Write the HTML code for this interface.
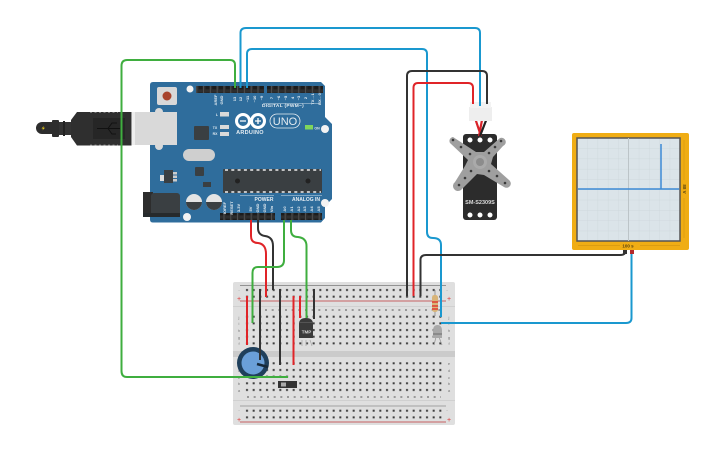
<!DOCTYPE html>
<html><head><meta charset="utf-8"><style>
html,body{margin:0;padding:0;background:#fff}
svg{display:block}
text{font-family:"Liberation Sans",sans-serif}
</style></head><body>
<svg width="725" height="453" viewBox="0 0 725 453" xmlns="http://www.w3.org/2000/svg">
<defs>
<pattern id="hr" x="245.900" y="288.900" width="6.667" height="6.667" patternUnits="userSpaceOnUse"><rect x="0.100" y="0.100" width="2" height="2" fill="#3c3c3c"/></pattern>
<pattern id="hu" x="245.900" y="315.600" width="6.667" height="6.667" patternUnits="userSpaceOnUse"><rect x="0.100" y="0.100" width="2" height="2" fill="#3c3c3c"/></pattern>
<pattern id="hl" x="245.900" y="362.200" width="6.667" height="6.667" patternUnits="userSpaceOnUse"><rect x="0.100" y="0.100" width="2" height="2" fill="#3c3c3c"/></pattern>
<pattern id="hb" x="245.900" y="409.600" width="6.667" height="6.667" patternUnits="userSpaceOnUse"><rect x="0.100" y="0.100" width="2" height="2" fill="#3c3c3c"/></pattern>
<pattern id="pin" x="0" y="0" width="6.800" height="7" patternUnits="userSpaceOnUse"><rect width="6.800" height="7" fill="#2e2e2e"/><rect x="1.400" y="1.600" width="4" height="3.800" fill="#1c1c1c"/><rect x="6" width="0.800" height="7" fill="#555"/></pattern>
<pattern id="grid" x="577" y="138" width="10.300" height="10.300" patternUnits="userSpaceOnUse"><rect width="10.300" height="10.300" fill="#dbe4e9"/><path d="M0 0H10.300M0 0V10.300" stroke="#ccd6da" stroke-width="0.700"/></pattern>
</defs>

<!-- USB plug -->
<g>
<path d="M42 122H56V134H42A6 6 0 0 1 42 122Z" fill="#2d2d2d"/>
<path d="M44 126l-2.500 2.500h1.800l-1 2l2.700 -2.800h-1.800z" fill="#f2d21b"/>
<rect x="52" y="120" width="7" height="17" rx="1" fill="#2d2d2d"/>
<rect x="59" y="122" width="12" height="13" fill="#333"/>
<rect x="63" y="121" width="2" height="15" fill="#222"/>
<path d="M71 120L77 112H131.500V145.500H77L71 137Z" fill="#2f2f2f"/>
<path d="M90 112.500H118M90 145H118" stroke="#777" stroke-width="1" stroke-dasharray="2 2.500"/>
<rect x="93" y="118" width="32" height="21" fill="#262626"/>
<path d="M97 128.500H120M108 128.500L112 123H117M108 128.500L112 134H116" stroke="#111" stroke-width="1" fill="none"/>
</g>

<!-- Arduino -->
<path d="M153 82H321L325 86V117L332 124V199L325 206V218L321 222.500H153Q150 222.500 150 219.500V85Q150 82 153 82Z" fill="#2f6d9c"/>
<circle cx="159" cy="112" r="4" fill="#d9d9d9"/><circle cx="159" cy="146" r="4" fill="#d9d9d9"/>
<rect x="132" y="112" width="45" height="33" fill="#d9d9d9"/>
<rect x="132" y="112" width="3" height="33" fill="#eee"/>
<rect x="157" y="87" width="20" height="18" rx="2" fill="#d8d8d8"/><circle cx="167" cy="96" r="4.500" fill="#a8432c"/>
<circle cx="190" cy="89" r="3.500" fill="#f3f3f3"/>
<circle cx="325" cy="129" r="4" fill="#f3f3f3"/><circle cx="325" cy="203" r="4" fill="#f3f3f3"/><circle cx="187" cy="217" r="4" fill="#f3f3f3"/>
<rect x="196" y="86" width="68" height="7" fill="url(#pin)"/>
<rect x="267" y="86" width="56" height="7" fill="url(#pin)"/>
<rect x="220" y="213" width="55" height="7" fill="url(#pin)"/>
<rect x="281" y="213" width="41" height="7" fill="url(#pin)"/>
<g fill="#e6edf2" font-size="4" font-weight="bold" text-anchor="middle">
<text transform="translate(217,100) rotate(-90)">AREF</text><text transform="translate(223,100) rotate(-90)">GND</text>
<text transform="translate(236,99) rotate(-90)">13</text><text transform="translate(242,99) rotate(-90)">12</text><text transform="translate(249,99) rotate(-90)">~11</text><text transform="translate(256,99) rotate(-90)">~10</text><text transform="translate(263,98) rotate(-90)">~9</text><text transform="translate(262,0) rotate(-90)"></text>
<text transform="translate(273,98) rotate(-90)">7</text><text transform="translate(280,98) rotate(-90)">~6</text><text transform="translate(287,98) rotate(-90)">~5</text><text transform="translate(294,98) rotate(-90)">4</text><text transform="translate(300,98) rotate(-90)">~3</text><text transform="translate(307,98) rotate(-90)">2</text><text transform="translate(314,99) rotate(-90)">TX→1</text><text transform="translate(321,99) rotate(-90)">RX←0</text>
<text x="283" y="107" font-size="4.800" letter-spacing=".3">DIGITAL (PWM~)</text>
<text transform="translate(226,208) rotate(-90)">IOREF</text><text transform="translate(233,208) rotate(-90)">RESET</text><text transform="translate(240,208) rotate(-90)">3.3V</text><text transform="translate(252,209) rotate(-90)">5V</text><text transform="translate(259,208) rotate(-90)">GND</text><text transform="translate(266,208) rotate(-90)">GND</text><text transform="translate(273,209) rotate(-90)">Vin</text>
<text transform="translate(286,209) rotate(-90)">A0</text><text transform="translate(293,209) rotate(-90)">A1</text><text transform="translate(300,209) rotate(-90)">A2</text><text transform="translate(306,209) rotate(-90)">A3</text><text transform="translate(313,209) rotate(-90)">A4</text><text transform="translate(320,209) rotate(-90)">A5</text>
<text x="264" y="201" font-size="5">POWER</text><text x="306" y="201" font-size="5">ANALOG IN</text>
<text x="250" y="134" font-size="5.500" font-weight="bold" letter-spacing=".3">ARDUINO</text>
<text x="285" y="125" font-size="11" font-weight="normal">UNO</text>
<text x="217" y="116" font-size="3.500">L</text><text x="215" y="129" font-size="3.500">TX</text><text x="215" y="135" font-size="3.500">RX</text>
<text x="317" y="129.500" font-size="3.500">ON</text>
</g>
<path d="M240 195.500H274M281 195.500H322M263 103.500H321" stroke="#cfe0ea" stroke-width="0.600" fill="none"/>
<g fill="none" stroke="#fff" stroke-width="3"><circle cx="243" cy="121" r="6.500"/><circle cx="258" cy="121" r="6.500"/></g>
<path d="M240 121H246M255 121H261M258 118V124" stroke="#fff" stroke-width="1.300"/>
<rect x="270" y="114" width="30" height="14" rx="7" fill="none" stroke="#e8eef2" stroke-width="0.800"/>
<rect x="220" y="112" width="9" height="4.500" fill="#d9d9d9"/><rect x="220" y="125" width="9" height="4" fill="#d9d9d9"/><rect x="220" y="132" width="9" height="4" fill="#d9d9d9"/>
<rect x="305" y="125" width="8" height="4.500" fill="#7fd65c"/>
<rect x="194" y="126" width="15" height="14" rx="1" fill="#3a3f42"/>
<rect x="183" y="149" width="32" height="12" rx="6" fill="#cfcfcf"/>
<rect x="195" y="167" width="9" height="9" rx="1" fill="#3a3f42"/>
<rect x="164" y="170" width="9" height="13" fill="#3a3f42"/><rect x="160" y="175" width="4" height="6" fill="#ddd"/><path d="M173 172h4v2.500h-4zM173 175.500h4v2.500h-4zM173 179h4v2.500h-4z" fill="#ccc"/>
<rect x="203" y="182" width="8" height="5" fill="#3a3f42"/>
<circle cx="194" cy="202" r="8" fill="#e4e4e4"/><path d="M186 202a8 8 0 0 0 16 0Z" fill="#3a3f42"/>
<circle cx="214" cy="202" r="8" fill="#e4e4e4"/><path d="M206 202a8 8 0 0 0 16 0Z" fill="#3a3f42"/>
<rect x="143" y="192" width="10" height="25" fill="#2d2d2d"/><rect x="151" y="193" width="29" height="23" rx="3" fill="#3a3f42"/><rect x="143" y="213" width="37" height="4" fill="#262a2c"/>
<rect x="223" y="169" width="99" height="24" rx="1" fill="#3a3f42"/>
<path d="M225 170H321M225 192H321" stroke="#eee" stroke-width="1.500" stroke-dasharray="3 3.300"/>
<circle cx="237.500" cy="181" r="2.500" fill="#222"/><circle cx="308" cy="181" r="2.500" fill="#222"/>

<!-- Breadboard -->
<rect x="233" y="282" width="222" height="143" rx="2" fill="#dfdfdf"/>
<rect x="233" y="306" width="222" height="1" fill="#d0d0d0"/>
<rect x="233" y="351" width="222" height="6" fill="#cbcbcb"/>
<rect x="233" y="400" width="222" height="1" fill="#d0d0d0"/>
<path d="M240 285.700H446M240 406H446" stroke="#666" stroke-width="0.600"/>
<path d="M240 301H446M240 422H446" stroke="#c0393b" stroke-width="0.800"/>
<rect x="245" y="288" width="200" height="10" fill="url(#hr)"/>
<rect x="245" y="315" width="200" height="30" fill="url(#hu)"/>
<rect x="245" y="362" width="200" height="30" fill="url(#hl)"/>
<rect x="245" y="409" width="200" height="10" fill="url(#hb)"/>
<g fill="#777" font-size="4" text-anchor="middle">
<text x="239" y="291">-</text><text x="447" y="291">-</text><text x="239" y="301" fill="#d33" font-size="7">+</text><text x="449" y="301" fill="#d33" font-size="7">+</text>
<text x="239" y="411">-</text><text x="447" y="411">-</text><text x="239" y="422" fill="#d33" font-size="7">+</text><text x="449" y="422" fill="#d33" font-size="7">+</text>
<text x="239" y="319">j</text><text x="239" y="325">i</text><text x="239" y="332">h</text><text x="239" y="339">g</text><text x="239" y="345">f</text>
<text x="449" y="319">j</text><text x="449" y="325">i</text><text x="449" y="332">h</text><text x="449" y="339">g</text><text x="449" y="345">f</text>
<text x="239" y="365">e</text><text x="239" y="372">d</text><text x="239" y="379">c</text><text x="239" y="385">b</text><text x="239" y="392">a</text>
<text x="449" y="365">e</text><text x="449" y="372">d</text><text x="449" y="379">c</text><text x="449" y="385">b</text><text x="449" y="392">a</text>
</g>
<path d="M265 310H441M247 397H441" stroke="#999" stroke-width="2" stroke-dasharray="2 4.667"/>

<!-- Pot -->
<circle cx="253" cy="363" r="16" fill="#1f3f5b"/>
<circle cx="253" cy="363" r="11.500" fill="#6a9fd8"/>
<path d="M257 364L268 367" stroke="#16293a" stroke-width="2.500"/>
<!-- Switch -->
<rect x="278" y="381" width="19" height="7" fill="#333"/><rect x="281" y="382.500" width="5" height="4" fill="#aaa"/>
<!-- TMP -->
<path d="M302 340L302 346M306 340V346M310 340L312 346" stroke="#aaa" stroke-width="0.800"/>
<path d="M299 324Q299 318 306 318Q313 318 313 324V338H299Z" fill="#3a3a3a"/>
<rect x="299" y="322" width="14" height="1" fill="#555"/>
<text x="306.500" y="333.500" font-size="4.500" font-weight="bold" fill="#ddd" text-anchor="middle">TMP</text>
<!-- Resistor -->
<path d="M435 290V316" stroke="#999" stroke-width="1"/>
<rect x="432" y="295" width="6" height="17" rx="2.500" fill="#d8b478"/>
<path d="M432 302H438M432 306H438M432 309H438" stroke="#e02020" stroke-width="1.300"/>
<!-- LED -->
<path d="M436 337L434 345M439 337L442 345" stroke="#999" stroke-width="0.800"/>
<path d="M433 331Q433 325 437.500 325Q442 325 442 331V338H433Z" fill="#a8a8a8"/>
<rect x="433" y="333" width="9" height="2" fill="#8a8a8a"/>

<!-- Servo -->
<rect x="463" y="134" width="34" height="86" rx="3" fill="#2c2c2c"/>
<circle cx="470" cy="140" r="2.500" fill="#fff"/><circle cx="480" cy="140" r="2.500" fill="#fff"/><circle cx="490" cy="140" r="2.500" fill="#fff"/>
<circle cx="470" cy="215" r="2.500" fill="#fff"/><circle cx="480" cy="215" r="2.500" fill="#fff"/><circle cx="490" cy="215" r="2.500" fill="#fff"/>
<path d="M453 137A4 4 0 0 0 450 143L468 160L465 166L455 182A4 4 0 0 0 461 190L477 174L484 175L504 187A4 4 0 0 0 509 180L491 164L493 157L503 146A4 4 0 0 0 500 138L484 152L476 152Z" fill="#9f9f9f"/>
<circle cx="480" cy="162" r="7" fill="#aaa"/><circle cx="480" cy="162" r="4" fill="#8c8c8c"/>
<g fill="#3a3a3a"><circle cx="453" cy="140" r="1.300"/><circle cx="461" cy="147" r="1.300"/><circle cx="470" cy="154" r="1.300"/><circle cx="501" cy="141" r="1.300"/><circle cx="495" cy="147" r="1.300"/><circle cx="489" cy="153" r="1.300"/><circle cx="459" cy="185" r="1.300"/><circle cx="465" cy="178" r="1.300"/><circle cx="471" cy="171" r="1.300"/><circle cx="505" cy="183" r="1.300"/><circle cx="497" cy="176" r="1.300"/><circle cx="489" cy="171" r="1.300"/></g>
<path d="M475 118L481 136M482 120L479 136" stroke="#d9232a" stroke-width="2.200" fill="none"/><path d="M487 118L480 136" stroke="#222" stroke-width="2.200" fill="none"/>
<rect x="469" y="107" width="23" height="14" fill="#eeeeee"/>
<rect x="470" y="102" width="21" height="6" fill="#f3f3f3"/>
<text x="480" y="204" font-size="5.500" font-weight="bold" fill="#ddd" text-anchor="middle">SM-S2309S</text>

<!-- Scope -->
<rect x="572" y="133" width="117" height="117" rx="2" fill="#f0ad14"/>
<rect x="577" y="138" width="103" height="103" fill="url(#grid)" stroke="#555" stroke-width="1.500"/>
<path d="M628.500 138V241" stroke="#bcc4c8" stroke-width="1"/>
<path d="M578 189H679M661 189V144" stroke="#3c8ad6" stroke-width="1.500" fill="none"/>
<text x="628" y="247.500" font-size="4.500" font-weight="bold" fill="#5a4410" text-anchor="middle">100 s</text>
<text transform="translate(683,189) rotate(90)" font-size="4.500" font-weight="bold" fill="#5a4410" text-anchor="middle">88 V</text>
<path d="M578 245.500H620M640 245.500H680M684 140V180M684 198V238" stroke="#d6980f" stroke-width="0.700"/>
<rect x="623" y="250" width="4" height="4" fill="#333"/><rect x="630" y="250" width="4" height="4" fill="#b3282b"/>

<!-- Wires -->
<g fill="none" stroke-width="2" stroke-linejoin="round">
<path d="M235 88V65Q235 60 230 60H127Q121.500 60 121.500 66V371Q121.500 377 127 377H288" stroke="#3fae3f"/>
<path d="M240.500 88V33Q240.500 28 246 28H475Q480 28 480 33V106" stroke="#1a98cf"/>
<path d="M247 88V54Q247 49 252 49H422Q427 49 427 54V232Q427 238 433 238Q441 238 441 245V317" stroke="#1a98cf"/>
<path d="M441 323H626Q631.500 323 631.500 318V254" stroke="#1a98cf"/>
<path d="M407 296V76Q407 71 412 71H482Q487 71 487 76V104" stroke="#333"/>
<path d="M413.500 296V88Q413.500 83 418 83H468Q473 83 473 88V104" stroke="#e02428"/>
<path d="M420.500 296V260Q420.500 255 426 255H620Q625 255 625 252" stroke="#333"/>
<path d="M251 220V236Q251 243 258 243Q266 244 266 254V297" stroke="#e02428"/>
<path d="M258 220V228Q258 235 265 236Q273 237 273 246V290" stroke="#333"/>
<path d="M284 220V260Q284 267 277 267H258Q252.500 267 252.500 273V323" stroke="#3fae3f"/>
<path d="M291 220V230Q291 237 298 237Q306.500 238 306.500 246V318" stroke="#3fae3f"/>
<path d="M247 296V345" stroke="#e02428"/>
<path d="M260 289V360" stroke="#333"/>
<path d="M280 289V365" stroke="#333"/>
<path d="M293.500 296V365" stroke="#e02428"/>
<path d="M300 296V318" stroke="#e02428"/>
<path d="M314 289V319" stroke="#333"/>
</g>
</svg>
</body></html>
